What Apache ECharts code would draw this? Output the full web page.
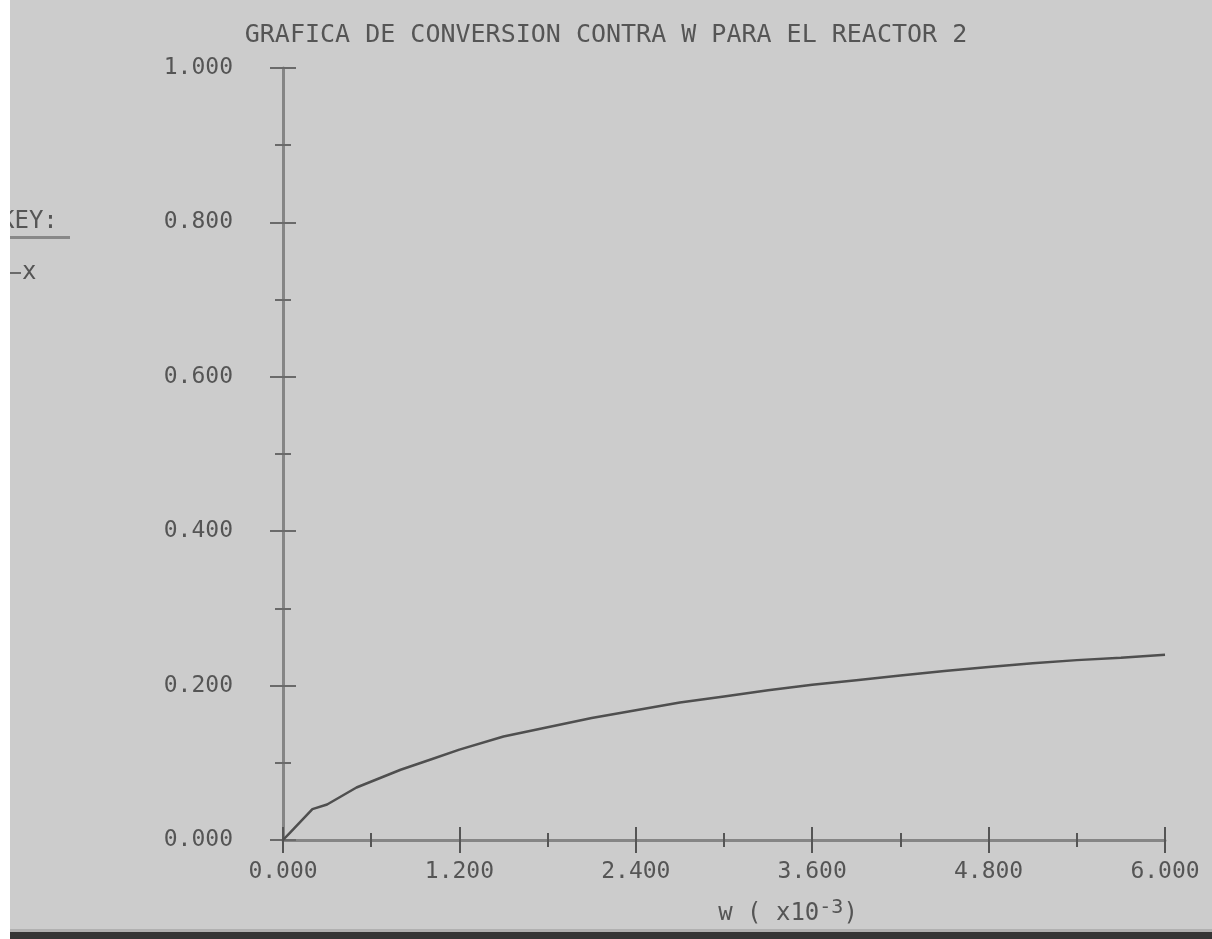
<!DOCTYPE html>
<html style="height: 100%">
<head>
    <meta charset="UTF-8">
    <title>Grafica de conversion contra W</title>
    <script src="https://cdn.jsdelivr.net/npm/echarts@6/dist/echarts.min.js"></script>
    <style>
        body { margin: 0; background: #cccccc; }
        #chart { width: 1212px; height: 939px; }
    </style>
</head>
<body>
    <div id="chart"></div>
    <script>
        // W (x10^-3) values and conversion
        var wValues = [0, 0.05, 0.2, 0.3, 0.5, 0.8, 1.0, 1.2, 1.5, 1.8, 2.1, 2.4, 2.7, 3.0, 3.3, 3.6, 3.9, 4.2, 4.5, 4.8, 5.1, 5.4, 5.7, 6.0];
        var conversion = [0, 0.010, 0.040, 0.046, 0.068, 0.091, 0.104, 0.117, 0.134, 0.146, 0.158, 0.168, 0.178, 0.186, 0.194, 0.201, 0.207, 0.213, 0.219, 0.224, 0.229, 0.233, 0.236, 0.240];
        var seriesName = 'x';
        var titleText = 'GRAFICA DE CONVERSION CONTRA W PARA EL REACTOR 2';

        var mono = 'DejaVu Sans Mono';
        var ink = '#555555';
        var axisGray = '#858585';

        var points = wValues.map(function (w, i) { return [w, conversion[i]]; });

        var chart = echarts.init(document.getElementById('chart'));
        chart.setOption({
            backgroundColor: '#cccccc',
            animation: false,
            title: {
                text: titleText,
                left: 'center',
                top: 18,
                textStyle: { fontFamily: mono, fontSize: 25, fontWeight: 'normal', color: ink }
            },
            legend: {
                data: [seriesName],
                left: 0,
                top: 256,
                icon: 'rect',
                itemWidth: 16,
                itemHeight: 2,
                itemGap: 4,
                textStyle: { fontFamily: mono, fontSize: 24, color: ink, padding: [0, 0, 0, -4] }
            },
            grid: { left: 283, right: 47, top: 68, bottom: 99 },
            xAxis: [{
                type: 'value',
                min: 0, max: 6, interval: 1.2,
                name: '{b|w ( x10}{s|-3}{b|)}',
                nameLocation: 'middle',
                nameGap: 58,
                nameTextStyle: {
                    padding: [0, 0, 0, 128],
                    rich: {
                        b: { fontFamily: mono, fontSize: 24, color: ink },
                        s: { fontFamily: mono, fontSize: 20, color: ink, verticalAlign: 'bottom', padding: [0, 0, 12, 0] }
                    }
                },
                axisLine: { lineStyle: { color: axisGray, width: 3 } },
                axisTick: { length: 13, lineStyle: { color: '#555', width: 2 } },
                minorTick: { show: true, splitNumber: 2, length: 7, lineStyle: { color: '#555', width: 2 } },
                splitLine: { show: false },
                axisLabel: {
                    margin: 21,
                    fontFamily: mono, fontSize: 23, color: ink,
                    formatter: function (v) { return v.toFixed(3); }
                }
            }, {
                type: 'value',
                position: 'bottom',
                min: 0, max: 6, interval: 1.2,
                axisLine: { show: false },
                axisTick: { inside: true, length: 13, lineStyle: { color: '#555', width: 2 } },
                minorTick: { show: true, splitNumber: 2, length: 7, lineStyle: { color: '#555', width: 2 } },
                splitLine: { show: false },
                axisLabel: { show: false }
            }],
            yAxis: [{
                type: 'value',
                min: 0, max: 1, interval: 0.2,
                axisLine: { show: true, lineStyle: { color: axisGray, width: 3 } },
                axisTick: { show: true, length: 13, lineStyle: { color: '#6a6a6a', width: 2 } },
                minorTick: { show: true, splitNumber: 2, length: 8, lineStyle: { color: '#6a6a6a', width: 2 } },
                splitLine: { show: false },
                axisLabel: {
                    margin: 50,
                    fontFamily: mono, fontSize: 23, color: ink,
                    padding: [0, 0, 6, 0],
                    formatter: function (v) { return v.toFixed(3); }
                }
            }, {
                type: 'value',
                position: 'left',
                min: 0, max: 1, interval: 0.2,
                axisLine: { show: false },
                axisTick: { show: true, inside: true, length: 13, lineStyle: { color: '#6a6a6a', width: 2 } },
                minorTick: { show: true, splitNumber: 2, length: 8, lineStyle: { color: '#6a6a6a', width: 2 } },
                splitLine: { show: false },
                axisLabel: { show: false }
            }],
            series: [{
                name: seriesName,
                type: 'line',
                data: points,
                showSymbol: false,
                symbol: 'none',
                lineStyle: { color: '#4f4f4f', width: 2.5 },
                itemStyle: { color: '#6a6a6a' }
            }],
            graphic: [
                { type: 'text', left: 0, top: 210, style: { text: 'KEY:', font: '24px ' + mono, fill: ink } },
                { type: 'rect', shape: { x: 10, y: 236, width: 60, height: 3 }, style: { fill: '#888' } },
                { type: 'rect', z: 100, shape: { x: 0, y: 0, width: 10, height: 939 }, style: { fill: '#ffffff' } },
                { type: 'rect', shape: { x: 0, y: 929, width: 1212, height: 3 }, style: { fill: '#b0b0b0' } },
                { type: 'rect', shape: { x: 0, y: 932, width: 1212, height: 7 }, style: { fill: '#353535' } }
            ]
        });
    </script>
</body>
</html>
